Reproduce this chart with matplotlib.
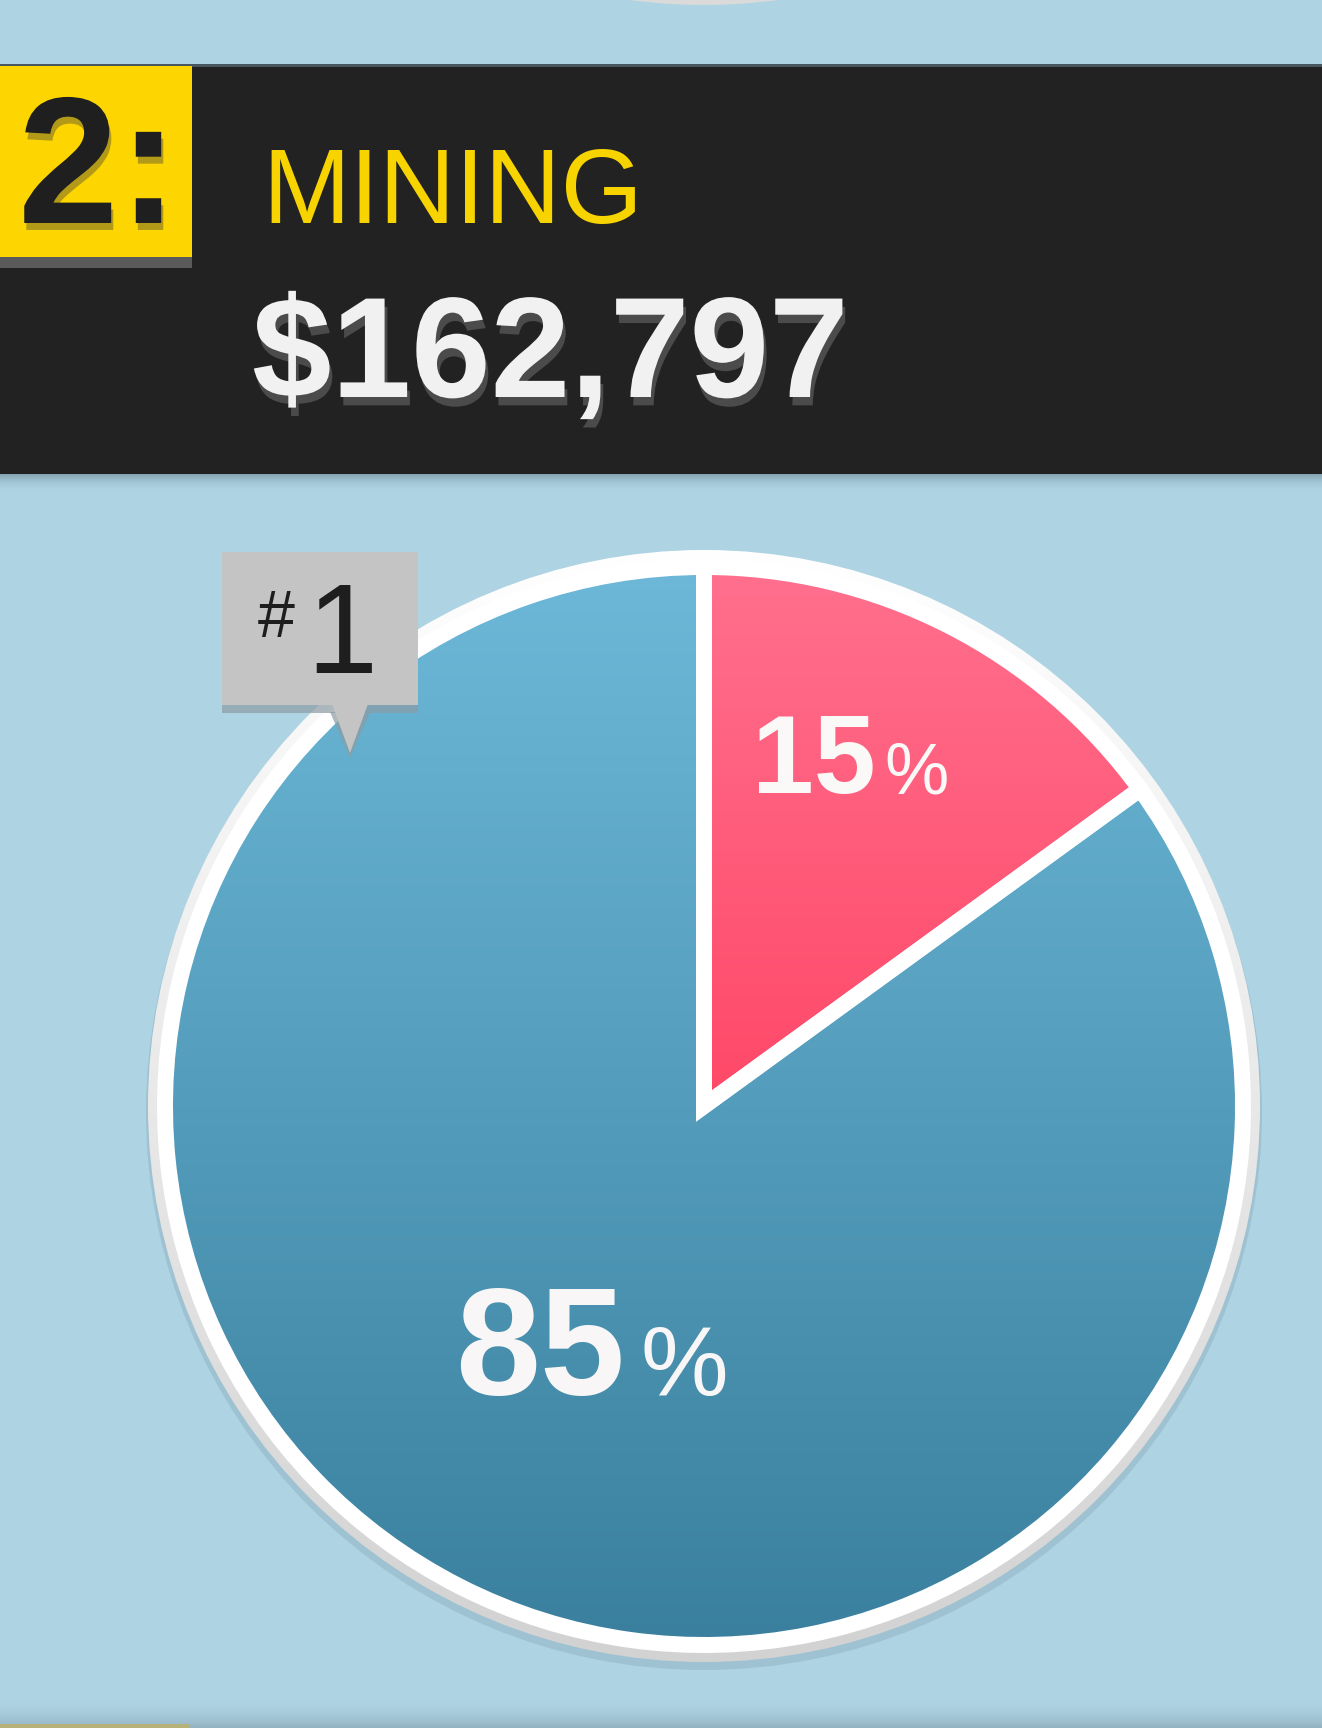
import matplotlib
matplotlib.use('Agg')
import matplotlib.pyplot as plt
import matplotlib.patheffects as pe
from matplotlib.patches import Rectangle, Circle, Polygon
from matplotlib.colors import to_rgb
import numpy as np

W, H = 1322, 1728

rank = "2:"
sector = "MINING"
amount = "$162,797"
shares = [15, 85]
share_colors = [('#ff708e', '#ff4868'), ('#6db8d8', '#3a809e')]
tag_rank = "1"

BG = '#aed3e3'
FONT = ['Liberation Sans', 'DejaVu Sans']


def vgrad(ax, c_top, c_bot, extent, zorder, clip=None, alpha=None):
    a = np.array(to_rgb(c_top))
    b = np.array(to_rgb(c_bot))
    t = np.linspace(0, 1, 256)[:, None]
    img = a + (b - a) * t
    if alpha is not None:
        al = alpha[0] + (alpha[1] - alpha[0]) * t
        img = np.concatenate([img, al], axis=1)
    img = img[:, None, :]
    im = ax.imshow(img, extent=extent, origin='upper', aspect='auto',
                   interpolation='bilinear', zorder=zorder)
    if clip is not None:
        im.set_clip_path(clip)
    return im


def shadow(dx, dy, color, alpha):
    # offsets in points; y is up in display space
    return [pe.SimplePatchShadow(offset=(dx, dy), shadow_rgbFace=color, alpha=alpha),
            pe.Normal()]


def main():
    fig = plt.figure(figsize=(W / 100, H / 100), dpi=100)
    fig.patch.set_facecolor(BG)
    ax = fig.add_axes([0, 0, 1, 1])
    ax.set_facecolor(BG)

    cx, cy = 704, 1106
    r_out, r_in = 556, 539

    # tail of the previous pie at the top edge
    ax.add_patch(Circle((cx, 5 - r_out), r_out, fc='#dadada', ec='none', zorder=1))

    # dark header band
    ax.add_patch(Rectangle((0, 66), W, 408, fc='#222222', ec='none', zorder=2))
    ax.add_patch(Rectangle((0, 64), W, 3, fc='#48575d', ec='none', zorder=2))
    vgrad(ax, '#7f9eac', BG, (0, W, 492, 474), zorder=1.5, alpha=(0.9, 0.0))
    ax.add_patch(Rectangle((0, 66), 192, 191, fc='#fdd500', ec='none', zorder=3))
    ax.add_patch(Rectangle((0, 257), 192, 11, fc='#5a5a5a', ec='none', zorder=3))

    ax.text(18, 223, rank, fontsize=130, fontweight='bold', color='#1f1f1f',
            family=FONT, ha='left', va='baseline', zorder=5,
            path_effects=shadow(1.5, -5, '#a08a1e', 0.8))
    ax.text(262, 223, sector, fontsize=76, color='#f7d300',
            family=FONT, ha='left', va='baseline', zorder=5)
    ax.text(252, 397, amount, fontsize=103, fontweight='bold', color='#f1f1f1',
            family=FONT, ha='left', va='baseline', zorder=5,
            path_effects=shadow(2, -6, '#505050', 0.9))

    # pie: soft shadow + white rim
    ax.add_patch(Circle((cx, cy + 6), r_out + 2, fc='#8fb2c2', ec='none', alpha=0.5, zorder=1))
    rim = Circle((cx, cy), r_out, fc='none', ec='none', zorder=2)
    ax.add_patch(rim)
    vgrad(ax, '#ffffff', '#d2d2d2', (cx - r_out, cx + r_out, cy + r_out, cy - r_out),
          zorder=2, clip=rim)

    # y axis is inverted, so angle -90 is the top of the circle
    wedges, _ = ax.pie(shares, startangle=-90, counterclock=True, radius=r_in,
                       center=(cx, cy), colors=[c[0] for c in share_colors],
                       wedgeprops=dict(linewidth=11.5, edgecolor='white'))
    tops = [cy - r_in, cy - r_in]
    bots = [cy, cy + r_in]
    for w, (ctop, cbot), yt, yb in zip(wedges, share_colors, tops, bots):
        w.set_facecolor('none')
        w.set_zorder(4)
        w.set_joinstyle('miter')
        vgrad(ax, ctop, cbot, (cx - r_in, cx + r_in, yb, yt), zorder=3, clip=w)

    # percentage labels
    ax.text(752, 793, str(shares[0]), fontsize=80, fontweight='bold', color='#fbf8f8',
            family=FONT, ha='left', va='baseline', zorder=6)
    ax.text(884, 793, '%', fontsize=52, color='#fbf8f8',
            family=FONT, ha='left', va='baseline', zorder=6)
    ax.text(455, 1395, str(shares[1]), fontsize=110, fontweight='bold', color='#f8f6f6',
            family=FONT, ha='left', va='baseline', zorder=6)
    ax.text(640, 1395, '%', fontsize=71, color='#f8f6f6',
            family=FONT, ha='left', va='baseline', zorder=6)

    # rank tag
    ax.add_patch(Rectangle((222, 560), 196, 153, fc='#8c9ca4', ec='none', alpha=0.7, zorder=6))
    ax.add_patch(Polygon([(330, 712), (370, 712), (350, 758)], closed=True,
                         fc='#8c9ca4', ec='none', alpha=0.7, zorder=6))
    ax.add_patch(Rectangle((222, 552), 196, 153, fc='#c4c4c4', ec='none', zorder=7))
    ax.add_patch(Polygon([(332, 704), (368, 704), (350, 753)], closed=True,
                         fc='#c4c4c4', ec='none', zorder=7))
    ax.text(258, 637, '#', fontsize=48, color='#1e1e1e', family=FONT,
            ha='left', va='baseline', zorder=8)
    ax.text(306, 673, tag_rank, fontsize=92, color='#1e1e1e', family=FONT,
            ha='left', va='baseline', zorder=8)

    # bottom edge shading
    vgrad(ax, BG, '#93b3c2', (0, W, 1728, 1698), zorder=1, alpha=(0.0, 1.0))
    ax.add_patch(Rectangle((0, 1724), 190, 4, fc='#b7b27a', ec='none', zorder=2))

    ax.set_xlim(0, W)
    ax.set_ylim(H, 0)
    ax.set_aspect('auto')
    ax.axis('off')
    fig.savefig('out.png', dpi=100, facecolor=BG)


if __name__ == '__main__':
    main()
